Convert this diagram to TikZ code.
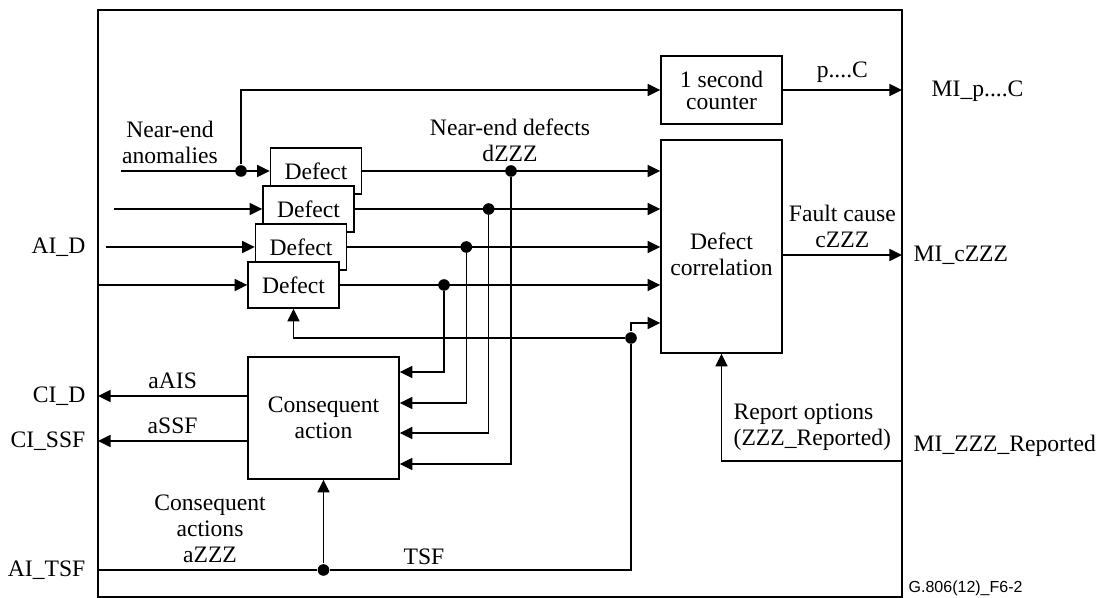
\documentclass[tikz,border=0pt]{standalone}
\usepackage{fontspec}
\setmainfont{Liberation Serif}
\newfontfamily\figsans{Liberation Sans}
\usetikzlibrary{arrows.meta,positioning}

\begin{document}
\begin{tikzpicture}[x=0.5pt,y=-0.5pt,line width=0.7pt,
  font=\fontsize{11.8}{13}\selectfont,
  blk/.style={draw,fill=white,inner sep=0pt,align=center},
  defbox/.style={blk,minimum width=45.5pt,minimum height=23pt},
  arr/.style={-{Triangle[length=6.3pt,width=6pt]}},
  jdot/.style={circle,fill,inner sep=0pt,minimum size=5.8pt},
  lbl/.style={inner sep=1pt,align=center}]
\useasboundingbox (0,0) rectangle (1104,598);
% outer frame
\coordinate (fTL) at (98,10);
\coordinate (fBR) at (902,597);
\draw (fTL) rectangle (fBR);

% blocks
\node[blk,minimum width=60.5pt,minimum height=34pt,font=\fontsize{11.8}{11}\selectfont] (cnt) at (721.5,90) {1 second\\counter};
\node[blk,minimum width=60.5pt,minimum height=106.5pt,
  label={[lbl,yshift=-4pt]center:Defect\\correlation}] (corr) at (721.5,246.5) {};
\node[blk,minimum width=75.5pt,minimum height=61pt] (cons) at (323.5,418) {Consequent\\action};
\foreach \i in {1,...,4}
  \node[defbox] (def\i) at ({316-7.5*(\i-1)},{171+38*(\i-1)}) {Defect};

% defect inputs
\coordinate (in1) at (121,171);
\coordinate (in2) at (113.5,209);
\coordinate (in3) at (106,247);
\coordinate (in4) at (fTL |- def4.west);
\foreach \i in {1,...,4}
  \draw[arr] (in\i) -- (def\i.west);
\node[jdot] (j0) at (241,171) {};
\draw[arr] (j0) |- (cnt.west);

% defects to correlation and consequent action
\foreach \i in {1,...,4}{
  \node[jdot] (j\i) at ({511-22.33*(\i-1)},{171+38*(\i-1)}) {};
  \draw[arr] (def\i.east) -- (def\i.east -| corr.west);
}
\foreach \i/\dy in {1/-23pt,2/-7.5pt,3/7.5pt,4/23pt}
  \draw[arr] (j\i) |- ([yshift=\dy]cons.east);

% outputs on the right
\coordinate (mip) at (cnt.east -| fBR);
\draw[arr] (cnt.east) -- node[above]{p....C} (mip);
\coordinate (fc) at ([yshift=-4.25pt]corr.east);
\draw[arr] (fc) -- node[above,align=center]{Fault cause\\cZZZ} (fc -| fBR);
\coordinate (rep) at (902,461);
\draw[arr] (rep) -| (corr.south);

% TSF
\coordinate (tsfin) at (98,570);
\node[jdot] (j5) at (323.5,570) {};
\node[jdot] (j6) at (631,338) {};
\coordinate (tsfc) at ([yshift=-38.25pt]corr.west);
\draw (tsfin) -- (j5) -| (j6);
\draw[arr] (j5) -- (cons.south);
\draw[arr] (j6) |- (tsfc);
\draw[arr] (j6) -| (def4.south);

% consequent outputs
\coordinate (cid) at (98,396);
\coordinate (cissf) at (98,441);
\draw[arr] ([yshift=11pt]cons.west) -- node[above]{aAIS} (cid);
\draw[arr] ([yshift=-11.5pt]cons.west) -- node[above]{aSSF} (cissf);

% labels
\node[lbl] (nea) at (170,142) {Near-end\\anomalies};
\node[lbl] (ned) at (510,140) {Near-end defects\\dZZZ};
\node[lbl] (caz) at (210,529) {Consequent\\actions\\aZZZ};
\node[lbl] (tsf) at (424,557) {TSF};
\node[lbl,align=left,anchor=west] (ropt) at (731,427) {Report options\\(ZZZ\_Reported)};
\node[lbl,anchor=east] (aid) at (88,247) {AI\_D};
\node[lbl,anchor=east] (cidl) at (88,396) {CI\_D};
\node[lbl,anchor=east] (cissfl) at (88,441) {CI\_SSF};
\node[lbl,anchor=east] (aitsf) at (88,570) {AI\_TSF};
\node[lbl,anchor=west] (mipl) at (929,91) {MI\_p....C};
\node[lbl,anchor=west] (miczzz) at (911,255) {MI\_cZZZ};
\node[lbl,anchor=west] (mirep) at (911,446) {MI\_ZZZ\_Reported};
\node[anchor=west,inner sep=0pt,font=\figsans\fontsize{8}{9}\selectfont] (figid) at (908,588) {G.806(12)\_F6-2};
\end{tikzpicture}
\end{document}
